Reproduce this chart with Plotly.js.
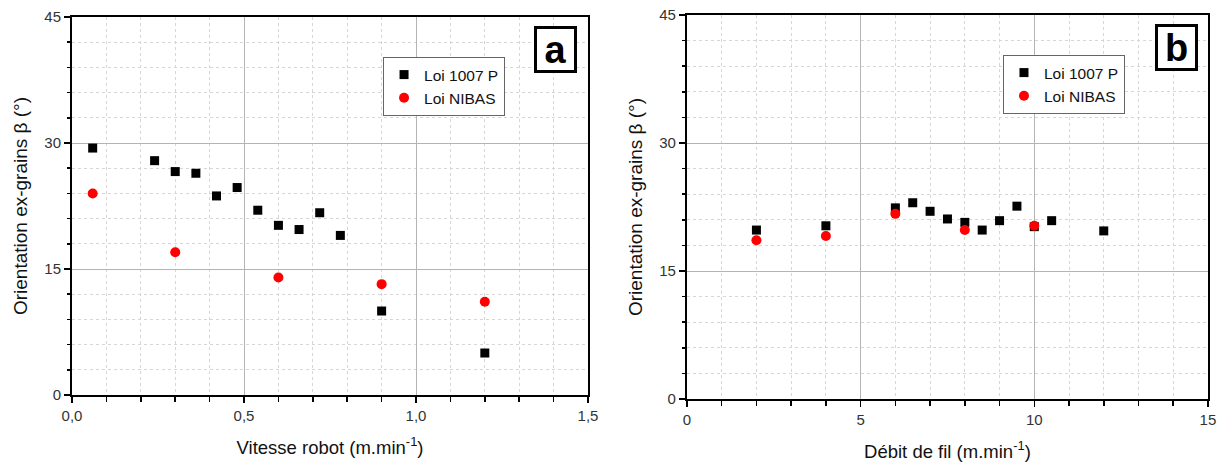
<!DOCTYPE html>
<html><head><meta charset="utf-8">
<script src="https://cdn.plot.ly/plotly-3.0.1.min.js"></script>
<style>html,body{margin:0;padding:0;background:#fff}#chart{width:1223px;height:465px}</style>
</head><body><div id="chart"></div>
<script>
// Panel a: Vitesse robot
const vitesse1007 = [0.06, 0.24, 0.30, 0.36, 0.42, 0.48, 0.54, 0.60, 0.66, 0.72, 0.78, 0.90, 1.20];
const beta1007a   = [29.4, 27.9, 26.6, 26.4, 23.7, 24.7, 22.0, 20.2, 19.7, 21.7, 19.0, 10.0, 5.0];
const vitesseNibas = [0.06, 0.30, 0.60, 0.90, 1.20];
const betaNibasA   = [24.0, 17.0, 14.0, 13.2, 11.1];
// Panel b: Débit de fil
const debit1007 = [2, 4, 6, 6.5, 7, 7.5, 8, 8.5, 9, 9.5, 10, 10.5, 12];
const beta1007b = [19.8, 20.3, 22.4, 23.0, 22.0, 21.1, 20.7, 19.8, 20.9, 22.6, 20.2, 20.9, 19.7];
const debitNibas = [2, 4, 6, 8, 10];
const betaNibasB = [18.6, 19.1, 21.7, 19.8, 20.3];
const seriesNames = ['Loi 1007 P', 'Loi NIBAS'];
const yTicks = [0, 15, 30, 45];

const FONT = 'Liberation Sans, Arial, sans-serif';
const sq = {symbol: 'square', size: 9, color: '#000'};
const ci = {symbol: 'circle', size: 10, color: '#ff0000'};

const traces = [
  {x: vitesse1007, y: beta1007a, type: 'scatter', mode: 'markers', name: seriesNames[0], marker: sq, xaxis: 'x', yaxis: 'y', legend: 'legend'},
  {x: vitesseNibas, y: betaNibasA, type: 'scatter', mode: 'markers', name: seriesNames[1], marker: ci, xaxis: 'x', yaxis: 'y', legend: 'legend'},
  {x: debit1007, y: beta1007b, type: 'scatter', mode: 'markers', name: seriesNames[0], marker: sq, xaxis: 'x2', yaxis: 'y2', legend: 'legend2'},
  {x: debitNibas, y: betaNibasB, type: 'scatter', mode: 'markers', name: seriesNames[1], marker: ci, xaxis: 'x2', yaxis: 'y2', legend: 'legend2'}
];

function xax(domain, range, dtick, minorDtick, title, fmt, anchor) {
  return {
    domain: domain, range: range, dtick: dtick, tick0: 0, anchor: anchor,
    showline: true, linecolor: '#000', linewidth: 2, mirror: true,
    ticks: 'outside', ticklen: 6, tickwidth: 1.5, tickcolor: '#000',
    showgrid: true, gridcolor: '#b4b4b4', gridwidth: 1,
    zeroline: false,
    tickfont: {family: FONT, size: 15, color: '#333'},
    tickformat: fmt,
    minor: {dtick: minorDtick, ticks: 'outside', ticklen: 5, tickcolor: '#000', showgrid: true, gridcolor: '#d6d6d6', griddash: 'dot', gridwidth: 1},
    title: {text: title, font: {family: FONT, size: 18.5, color: '#111'}, standoff: 18}
  };
}
function yax(domain, anchor) {
  return {
    domain: domain, range: [0, 45], tickvals: yTicks, anchor: anchor,
    showline: true, linecolor: '#000', linewidth: 2, mirror: true,
    ticks: 'outside', ticklen: 6, tickwidth: 1.5, tickcolor: '#000',
    showgrid: true, gridcolor: '#b4b4b4', gridwidth: 1,
    zeroline: false,
    tickfont: {family: FONT, size: 15, color: '#333'},
    minor: {dtick: 3, tick0: 0, ticks: 'outside', ticklen: 3, tickcolor: '#000', showgrid: true, gridcolor: '#d6d6d6', griddash: 'dot', gridwidth: 1},
    title: {text: 'Orientation ex-grains β (°)', font: {family: FONT, size: 19, color: '#111'}, standoff: 12}
  };
}

const legendStyle = {
  bgcolor: '#fff', bordercolor: '#666', borderwidth: 1,
  font: {family: FONT, size: 15.5, color: '#111'},
  xanchor: 'left', yanchor: 'top', tracegroupgap: 0, itemwidth: 30
};

const layout = {
  width: 1223, height: 465,
  margin: {l: 0, r: 0, t: 0, b: 0},
  paper_bgcolor: '#fff', plot_bgcolor: '#fff',
  showlegend: true,
  separators: ', ',
  xaxis: xax([0.0589, 0.4808], [0, 1.5], 0.5, 0.1, 'Vitesse robot (m.min<sup>-1</sup>)', '.1f', 'y'),
  yaxis: yax([0.1505, 0.9634], 'x'),
  xaxis2: xax([0.5617, 0.9877], [0, 15], 5, 1, 'Débit de fil (m.min<sup>-1</sup>)', 'd', 'y2'),
  yaxis2: yax([0.1419, 0.9677], 'x2'),
  legend: Object.assign({x: 0.3132, y: 0.8774}, legendStyle),
  legend2: Object.assign({x: 0.8201, y: 0.8817}, legendStyle),
  annotations: [
    {text: '<b>a</b>', xref: 'paper', yref: 'paper', x: 0.4542, y: 0.8935, xanchor: 'center', yanchor: 'middle', showarrow: false,
     font: {family: FONT, size: 38, color: '#000'}, bordercolor: '#000', borderwidth: 3, bgcolor: '#fff', width: 37, height: 41, borderpad: 0},
    {text: '<b>b</b>', xref: 'paper', yref: 'paper', x: 0.9620, y: 0.8978, xanchor: 'center', yanchor: 'middle', showarrow: false,
     font: {family: FONT, size: 38, color: '#000'}, bordercolor: '#000', borderwidth: 3, bgcolor: '#fff', width: 37, height: 41, borderpad: 0}
  ]
};
Plotly.newPlot('chart', traces, layout, {staticPlot: true, displayModeBar: false});
</script>
</body></html>
